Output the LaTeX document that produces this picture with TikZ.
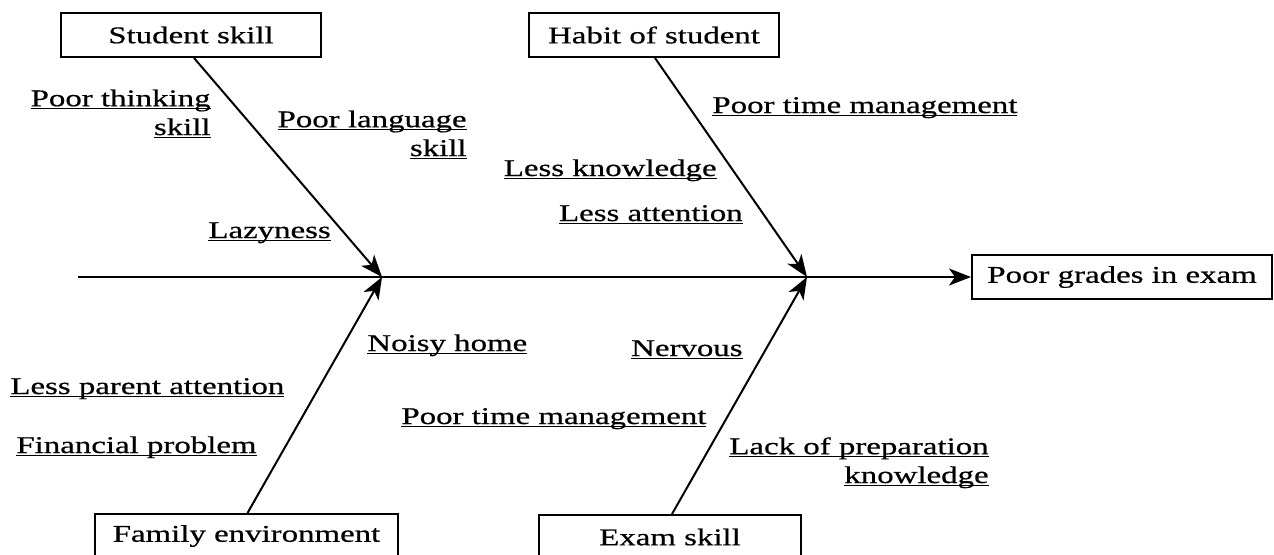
\documentclass[tikz,border=0pt]{standalone}
\usepackage{fontspec}
\setmainfont{Liberation Serif}[FakeStretch=1.37, FakeBold=0.6]
\usetikzlibrary{arrows.meta}
% underlined cause label: rule just below the baseline, through descenders
\newcommand\ulab[1]{\setbox0=\hbox{#1}\rlap{\rule[-1.6pt]{\wd0}{0.8pt}}\box0}
\tikzset{
  every node/.style={font=\fontsize{12}{14.4}\selectfont, text=black},
  causebox/.style={draw, line width=1pt, minimum width=#1, minimum height=22pt, inner sep=0pt},
  bone/.style={line width=1pt, -{Stealth[length=11pt,width=8.5pt,inset=3pt]}},
  cause/.style={inner sep=0pt},
}
\begin{document}
\begin{tikzpicture}[x=0.5pt, y=-0.5pt]
\useasboundingbox (0,0) rectangle (1274,554);
\fill[white] (0,0) rectangle (1274,554);

% category boxes and effect
\node[causebox=130pt] (ss) at (191,35) {Student skill};
\node[causebox=125pt] (hs) at (654,35) {Habit of student};
\node[causebox=150pt] (pg) at (1122,277) {Poor grades in exam};
\node[causebox=151.5pt] (fe) at (246.5,536) {Family environment};
\node[causebox=131pt] (es) at (670,537) {Exam skill};

% spine and its joints
\coordinate (tail) at (78,277);
\coordinate (j1) at (382,277);
\coordinate (j2) at (807,277);
\draw[bone] (tail) -- (pg.west);

% bones
\draw[bone] ([xshift=1.5pt]ss.south) -- (j1);
\draw[bone] ([xshift=0.5pt]fe.north) -- (j1);
\draw[bone] ([xshift=0.5pt]hs.south) -- (j2);
\draw[bone] ([xshift=1pt]es.north) -- (j2);

% causes: student skill (two-line labels are placed by their last baseline)
\node[cause, anchor=base east, align=right] (pts) at (211,135) {\ulab{Poor thinking}\\\ulab{skill}};
\node[cause, anchor=base east, align=right] (pls) at (467,156) {\ulab{Poor language}\\\ulab{skill}};
\node[cause, anchor=base west] (laz) at (208,238) {\ulab{Lazyness}};

% causes: habit of student
\node[cause, anchor=base west] (ptm1) at (712,113) {\ulab{Poor time management}};
\node[cause, anchor=base east] (lk) at (717,176) {\ulab{Less knowledge}};
\node[cause, anchor=base east] (la) at (743,221) {\ulab{Less attention}};

% causes: family environment
\node[cause, anchor=base west] (nh) at (367,351) {\ulab{Noisy home}};
\node[cause, anchor=base west] (lpa) at (10,394) {\ulab{Less parent attention}};
\node[cause, anchor=base west] (fp) at (16,453) {\ulab{Financial problem}};

% causes: exam skill
\node[cause, anchor=base east] (nv) at (743,356) {\ulab{Nervous}};
\node[cause, anchor=base west] (ptm2) at (401,424) {\ulab{Poor time management}};
\node[cause, anchor=base east, align=right] (lpk) at (989,483) {\ulab{Lack of preparation}\\\ulab{knowledge}};
\end{tikzpicture}
\end{document}
